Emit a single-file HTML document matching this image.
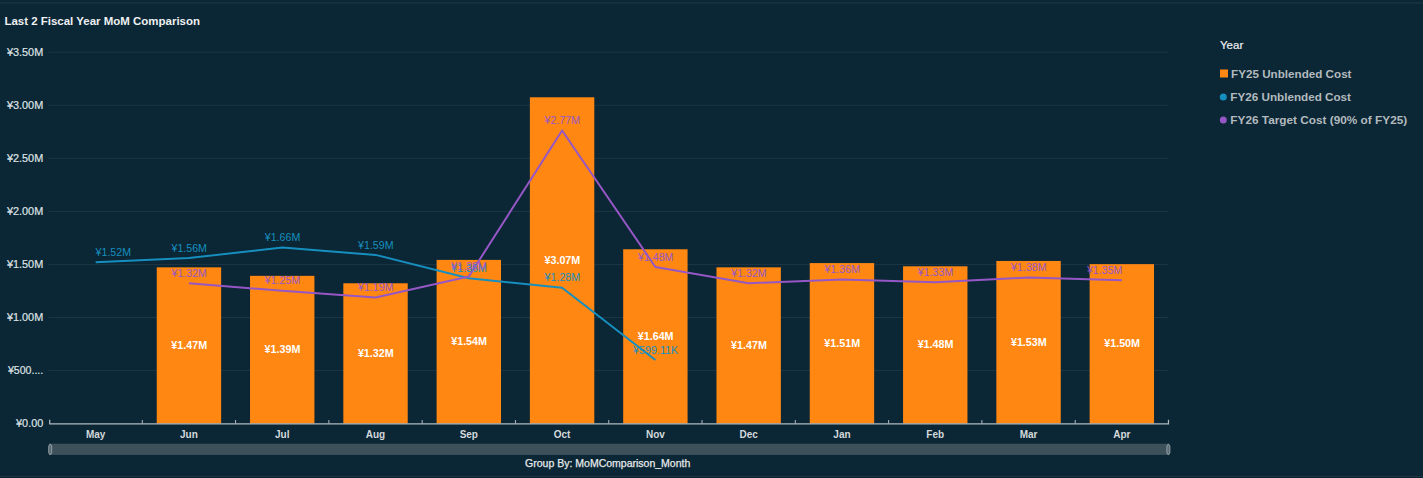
<!DOCTYPE html>
<html><head><meta charset="utf-8"><style>
html,body{margin:0;padding:0;background:#0b2634;width:1423px;height:478px;overflow:hidden;position:relative}
</style></head><body>
<svg width="1423" height="478" viewBox="0 0 1423 478" style="position:absolute;left:0;top:0">
<rect x="0" y="2.1" width="1423" height="1.6" fill="#1b3341"/>
<rect x="0" y="475.8" width="1423" height="1.4" fill="#1e3341"/>
<rect x="0" y="477.2" width="1423" height="0.8" fill="#11222f"/>
<text x="4.4" y="25.4" font-family="Liberation Sans, sans-serif" font-weight="bold" font-size="11.8" fill="#eef0f2" textLength="195.6" lengthAdjust="spacingAndGlyphs">Last 2 Fiscal Year MoM Comparison</text>
<text x="43.2" y="427.40" text-anchor="end" font-family="Liberation Sans, sans-serif" font-size="11" fill="#dfe3e6" stroke="#dfe3e6" stroke-width="0.2" textLength="27.1" lengthAdjust="spacingAndGlyphs">¥0.00</text>
<rect x="48.6" y="370.05" width="1120" height="1" fill="#1d3646"/>
<text x="43.2" y="374.35" text-anchor="end" font-family="Liberation Sans, sans-serif" font-size="11" fill="#dfe3e6" stroke="#dfe3e6" stroke-width="0.2" textLength="35.2" lengthAdjust="spacingAndGlyphs">¥500....</text>
<rect x="48.6" y="317.00" width="1120" height="1" fill="#1d3646"/>
<text x="43.2" y="321.30" text-anchor="end" font-family="Liberation Sans, sans-serif" font-size="11" fill="#dfe3e6" stroke="#dfe3e6" stroke-width="0.2" textLength="36.2" lengthAdjust="spacingAndGlyphs">¥1.00M</text>
<rect x="48.6" y="263.95" width="1120" height="1" fill="#1d3646"/>
<text x="43.2" y="268.25" text-anchor="end" font-family="Liberation Sans, sans-serif" font-size="11" fill="#dfe3e6" stroke="#dfe3e6" stroke-width="0.2" textLength="36.2" lengthAdjust="spacingAndGlyphs">¥1.50M</text>
<rect x="48.6" y="210.90" width="1120" height="1" fill="#1d3646"/>
<text x="43.2" y="215.20" text-anchor="end" font-family="Liberation Sans, sans-serif" font-size="11" fill="#dfe3e6" stroke="#dfe3e6" stroke-width="0.2" textLength="36.2" lengthAdjust="spacingAndGlyphs">¥2.00M</text>
<rect x="48.6" y="157.85" width="1120" height="1" fill="#1d3646"/>
<text x="43.2" y="162.15" text-anchor="end" font-family="Liberation Sans, sans-serif" font-size="11" fill="#dfe3e6" stroke="#dfe3e6" stroke-width="0.2" textLength="36.2" lengthAdjust="spacingAndGlyphs">¥2.50M</text>
<rect x="48.6" y="104.80" width="1120" height="1" fill="#1d3646"/>
<text x="43.2" y="109.10" text-anchor="end" font-family="Liberation Sans, sans-serif" font-size="11" fill="#dfe3e6" stroke="#dfe3e6" stroke-width="0.2" textLength="36.2" lengthAdjust="spacingAndGlyphs">¥3.00M</text>
<rect x="48.6" y="51.75" width="1120" height="1" fill="#1d3646"/>
<text x="43.2" y="56.05" text-anchor="end" font-family="Liberation Sans, sans-serif" font-size="11" fill="#dfe3e6" stroke="#dfe3e6" stroke-width="0.2" textLength="36.2" lengthAdjust="spacingAndGlyphs">¥3.50M</text>
<rect x="156.74" y="267.34" width="64.4" height="156.26" fill="#ff8712"/>
<rect x="250.03" y="275.84" width="64.4" height="147.76" fill="#ff8712"/>
<rect x="343.32" y="283.28" width="64.4" height="140.32" fill="#ff8712"/>
<rect x="436.61" y="259.90" width="64.4" height="163.70" fill="#ff8712"/>
<rect x="529.89" y="97.26" width="64.4" height="326.34" fill="#ff8712"/>
<rect x="623.18" y="249.27" width="64.4" height="174.33" fill="#ff8712"/>
<rect x="716.48" y="267.34" width="64.4" height="156.26" fill="#ff8712"/>
<rect x="809.76" y="263.09" width="64.4" height="160.51" fill="#ff8712"/>
<rect x="903.06" y="266.28" width="64.4" height="157.32" fill="#ff8712"/>
<rect x="996.35" y="260.96" width="64.4" height="162.64" fill="#ff8712"/>
<rect x="1089.63" y="264.15" width="64.4" height="159.45" fill="#ff8712"/>
<path d="M49.70 419.8 V423.90000000000003 H1168.48 V419.8" fill="none" stroke="#b0bac0" stroke-width="1.25"/>
<path d="M142.29 420.0 V423.6" stroke="#b0bac0" stroke-width="1"/>
<path d="M235.58 420.0 V423.6" stroke="#b0bac0" stroke-width="1"/>
<path d="M328.87 420.0 V423.6" stroke="#b0bac0" stroke-width="1"/>
<path d="M422.16 420.0 V423.6" stroke="#b0bac0" stroke-width="1"/>
<path d="M515.45 420.0 V423.6" stroke="#b0bac0" stroke-width="1"/>
<path d="M608.74 420.0 V423.6" stroke="#b0bac0" stroke-width="1"/>
<path d="M702.03 420.0 V423.6" stroke="#b0bac0" stroke-width="1"/>
<path d="M795.32 420.0 V423.6" stroke="#b0bac0" stroke-width="1"/>
<path d="M888.61 420.0 V423.6" stroke="#b0bac0" stroke-width="1"/>
<path d="M981.90 420.0 V423.6" stroke="#b0bac0" stroke-width="1"/>
<path d="M1075.19 420.0 V423.6" stroke="#b0bac0" stroke-width="1"/>
<polyline points="95.65,262.33 188.94,258.08 282.23,247.47 375.52,254.90 468.81,278.24 562.10,287.79 655.38,360.03" fill="none" stroke="#168fbf" stroke-width="2" stroke-linejoin="round"/>
<polyline points="188.94,283.23 282.23,290.87 375.52,297.55 468.81,276.55 562.10,130.45 655.38,267.00 748.68,283.23 841.97,279.41 935.26,282.27 1028.55,277.50 1121.84,280.37" fill="none" stroke="#9657c6" stroke-width="2" stroke-linejoin="round"/>
<text x="189.24" y="348.97" text-anchor="middle" font-family="Liberation Sans, sans-serif" font-weight="bold" font-size="10.3" fill="#ffffff" textLength="35.8" lengthAdjust="spacingAndGlyphs">¥1.47M</text>
<text x="282.53" y="353.22" text-anchor="middle" font-family="Liberation Sans, sans-serif" font-weight="bold" font-size="10.3" fill="#ffffff" textLength="35.8" lengthAdjust="spacingAndGlyphs">¥1.39M</text>
<text x="375.82" y="356.94" text-anchor="middle" font-family="Liberation Sans, sans-serif" font-weight="bold" font-size="10.3" fill="#ffffff" textLength="35.8" lengthAdjust="spacingAndGlyphs">¥1.32M</text>
<text x="469.11" y="345.25" text-anchor="middle" font-family="Liberation Sans, sans-serif" font-weight="bold" font-size="10.3" fill="#ffffff" textLength="35.8" lengthAdjust="spacingAndGlyphs">¥1.54M</text>
<text x="562.39" y="263.93" text-anchor="middle" font-family="Liberation Sans, sans-serif" font-weight="bold" font-size="10.3" fill="#ffffff" textLength="35.8" lengthAdjust="spacingAndGlyphs">¥3.07M</text>
<text x="655.68" y="339.93" text-anchor="middle" font-family="Liberation Sans, sans-serif" font-weight="bold" font-size="10.3" fill="#ffffff" textLength="35.8" lengthAdjust="spacingAndGlyphs">¥1.64M</text>
<text x="748.98" y="348.97" text-anchor="middle" font-family="Liberation Sans, sans-serif" font-weight="bold" font-size="10.3" fill="#ffffff" textLength="35.8" lengthAdjust="spacingAndGlyphs">¥1.47M</text>
<text x="842.26" y="346.84" text-anchor="middle" font-family="Liberation Sans, sans-serif" font-weight="bold" font-size="10.3" fill="#ffffff" textLength="35.8" lengthAdjust="spacingAndGlyphs">¥1.51M</text>
<text x="935.56" y="348.44" text-anchor="middle" font-family="Liberation Sans, sans-serif" font-weight="bold" font-size="10.3" fill="#ffffff" textLength="35.8" lengthAdjust="spacingAndGlyphs">¥1.48M</text>
<text x="1028.85" y="345.78" text-anchor="middle" font-family="Liberation Sans, sans-serif" font-weight="bold" font-size="10.3" fill="#ffffff" textLength="35.8" lengthAdjust="spacingAndGlyphs">¥1.53M</text>
<text x="1122.13" y="347.38" text-anchor="middle" font-family="Liberation Sans, sans-serif" font-weight="bold" font-size="10.3" fill="#ffffff" textLength="35.8" lengthAdjust="spacingAndGlyphs">¥1.50M</text>
<text x="95.55" y="255.93" font-family="Liberation Sans, sans-serif" font-size="10.2" fill="#168fbf" textLength="35.5" lengthAdjust="spacingAndGlyphs">¥1.52M</text>
<text x="189.24" y="251.68" text-anchor="middle" font-family="Liberation Sans, sans-serif" font-size="10.2" fill="#168fbf" textLength="35.5" lengthAdjust="spacingAndGlyphs">¥1.56M</text>
<text x="282.53" y="241.07" text-anchor="middle" font-family="Liberation Sans, sans-serif" font-size="10.2" fill="#168fbf" textLength="35.5" lengthAdjust="spacingAndGlyphs">¥1.66M</text>
<text x="375.82" y="248.50" text-anchor="middle" font-family="Liberation Sans, sans-serif" font-size="10.2" fill="#168fbf" textLength="35.5" lengthAdjust="spacingAndGlyphs">¥1.59M</text>
<text x="469.11" y="271.84" text-anchor="middle" font-family="Liberation Sans, sans-serif" font-size="10.2" fill="#168fbf" textLength="35.5" lengthAdjust="spacingAndGlyphs">¥1.36M</text>
<text x="562.39" y="281.39" text-anchor="middle" font-family="Liberation Sans, sans-serif" font-size="10.2" fill="#168fbf" textLength="35.5" lengthAdjust="spacingAndGlyphs">¥1.28M</text>
<text x="655.68" y="353.63" text-anchor="middle" font-family="Liberation Sans, sans-serif" font-size="10.2" fill="#168fbf" textLength="45.1" lengthAdjust="spacingAndGlyphs">¥599.11K</text>
<text x="189.24" y="276.83" text-anchor="middle" font-family="Liberation Sans, sans-serif" font-size="10.2" fill="#9657c6" textLength="35.5" lengthAdjust="spacingAndGlyphs">¥1.32M</text>
<text x="282.53" y="284.47" text-anchor="middle" font-family="Liberation Sans, sans-serif" font-size="10.2" fill="#9657c6" textLength="35.5" lengthAdjust="spacingAndGlyphs">¥1.25M</text>
<text x="375.82" y="291.15" text-anchor="middle" font-family="Liberation Sans, sans-serif" font-size="10.2" fill="#9657c6" textLength="35.5" lengthAdjust="spacingAndGlyphs">¥1.19M</text>
<text x="469.11" y="270.15" text-anchor="middle" font-family="Liberation Sans, sans-serif" font-size="10.2" fill="#9657c6" textLength="35.5" lengthAdjust="spacingAndGlyphs">¥1.38M</text>
<text x="562.39" y="124.05" text-anchor="middle" font-family="Liberation Sans, sans-serif" font-size="10.2" fill="#9657c6" textLength="35.5" lengthAdjust="spacingAndGlyphs">¥2.77M</text>
<text x="655.68" y="260.60" text-anchor="middle" font-family="Liberation Sans, sans-serif" font-size="10.2" fill="#9657c6" textLength="35.5" lengthAdjust="spacingAndGlyphs">¥1.48M</text>
<text x="748.98" y="276.83" text-anchor="middle" font-family="Liberation Sans, sans-serif" font-size="10.2" fill="#9657c6" textLength="35.5" lengthAdjust="spacingAndGlyphs">¥1.32M</text>
<text x="842.26" y="273.01" text-anchor="middle" font-family="Liberation Sans, sans-serif" font-size="10.2" fill="#9657c6" textLength="35.5" lengthAdjust="spacingAndGlyphs">¥1.36M</text>
<text x="935.56" y="275.87" text-anchor="middle" font-family="Liberation Sans, sans-serif" font-size="10.2" fill="#9657c6" textLength="35.5" lengthAdjust="spacingAndGlyphs">¥1.33M</text>
<text x="1028.85" y="271.10" text-anchor="middle" font-family="Liberation Sans, sans-serif" font-size="10.2" fill="#9657c6" textLength="35.5" lengthAdjust="spacingAndGlyphs">¥1.38M</text>
<text x="1122.43" y="273.97" text-anchor="end" font-family="Liberation Sans, sans-serif" font-size="10.2" fill="#9657c6" textLength="35.5" lengthAdjust="spacingAndGlyphs">¥1.35M</text>
<text x="95.65" y="438.1" text-anchor="middle" font-family="Liberation Sans, sans-serif" font-weight="bold" font-size="10" fill="#d3d9dc">May</text>
<text x="188.94" y="438.1" text-anchor="middle" font-family="Liberation Sans, sans-serif" font-weight="bold" font-size="10" fill="#d3d9dc">Jun</text>
<text x="282.23" y="438.1" text-anchor="middle" font-family="Liberation Sans, sans-serif" font-weight="bold" font-size="10" fill="#d3d9dc">Jul</text>
<text x="375.52" y="438.1" text-anchor="middle" font-family="Liberation Sans, sans-serif" font-weight="bold" font-size="10" fill="#d3d9dc">Aug</text>
<text x="468.81" y="438.1" text-anchor="middle" font-family="Liberation Sans, sans-serif" font-weight="bold" font-size="10" fill="#d3d9dc">Sep</text>
<text x="562.10" y="438.1" text-anchor="middle" font-family="Liberation Sans, sans-serif" font-weight="bold" font-size="10" fill="#d3d9dc">Oct</text>
<text x="655.38" y="438.1" text-anchor="middle" font-family="Liberation Sans, sans-serif" font-weight="bold" font-size="10" fill="#d3d9dc">Nov</text>
<text x="748.68" y="438.1" text-anchor="middle" font-family="Liberation Sans, sans-serif" font-weight="bold" font-size="10" fill="#d3d9dc">Dec</text>
<text x="841.97" y="438.1" text-anchor="middle" font-family="Liberation Sans, sans-serif" font-weight="bold" font-size="10" fill="#d3d9dc">Jan</text>
<text x="935.26" y="438.1" text-anchor="middle" font-family="Liberation Sans, sans-serif" font-weight="bold" font-size="10" fill="#d3d9dc">Feb</text>
<text x="1028.55" y="438.1" text-anchor="middle" font-family="Liberation Sans, sans-serif" font-weight="bold" font-size="10" fill="#d3d9dc">Mar</text>
<text x="1121.84" y="438.1" text-anchor="middle" font-family="Liberation Sans, sans-serif" font-weight="bold" font-size="10" fill="#d3d9dc">Apr</text>
<rect x="49" y="443.7" width="1120" height="11.2" fill="#3d515b"/>
<path d="M50.2 443.9 L51.7 446.0 V452.9 L50.2 455.0 L48.7 452.9 V446.0 Z" fill="#5a6b73" stroke="#a3aeb3" stroke-width="0.8"/>
<path d="M1168.4 443.9 L1169.9 446.0 V452.9 L1168.4 455.0 L1166.9 452.9 V446.0 Z" fill="#5a6b73" stroke="#a3aeb3" stroke-width="0.8"/>
<text x="607.7" y="467" text-anchor="middle" font-family="Liberation Sans, sans-serif" font-size="10.5" fill="#e6eaec" stroke="#e6eaec" stroke-width="0.25">Group By: MoMComparison_Month</text>
<text x="1220" y="49" font-family="Liberation Sans, sans-serif" font-size="11.5" fill="#eef0f2" stroke="#eef0f2" stroke-width="0.2">Year</text>
<rect x="1220" y="69.5" width="8" height="8" fill="#ff8712"/>
<circle cx="1223.3" cy="97.1" r="3.5" fill="#168fbf"/>
<circle cx="1223.3" cy="120.1" r="3.5" fill="#9657c6"/>
<text x="1231.1" y="77.9" font-family="Liberation Sans, sans-serif" font-weight="bold" font-size="11.8" fill="#b2babf" textLength="120.4" lengthAdjust="spacingAndGlyphs">FY25 Unblended Cost</text>
<text x="1230.3" y="100.8" font-family="Liberation Sans, sans-serif" font-weight="bold" font-size="11.8" fill="#b2babf" textLength="120.7" lengthAdjust="spacingAndGlyphs">FY26 Unblended Cost</text>
<text x="1230.3" y="123.7" font-family="Liberation Sans, sans-serif" font-weight="bold" font-size="11.8" fill="#b2babf" textLength="176.9" lengthAdjust="spacingAndGlyphs">FY26 Target Cost (90% of FY25)</text>
</svg>
</body></html>
